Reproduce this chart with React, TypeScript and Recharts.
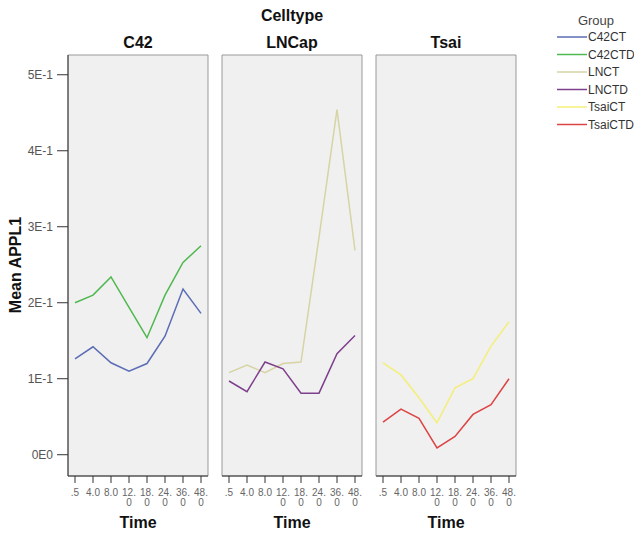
import React from "react";
import { LineChart, Line, XAxis, YAxis, ReferenceArea, Legend } from "recharts";

const times = [".5", "4.0", "8.0", "12.0", "18.0", "24.0", "36.0", "48.0"];
const c42ct = [0.126, 0.142, 0.121, 0.11, 0.12, 0.156, 0.218, 0.186];
const c42ctd = [0.2, 0.21, 0.234, 0.194, 0.154, 0.21, 0.253, 0.275];
const lnct = [0.108, 0.118, 0.108, 0.12, 0.122, 0.286, 0.454, 0.269];
const lnctd = [0.097, 0.083, 0.122, 0.113, 0.081, 0.081, 0.133, 0.157];
const tsaict = [0.121, 0.105, 0.075, 0.042, 0.088, 0.1, 0.143, 0.175];
const tsaictd = [0.043, 0.06, 0.048, 0.009, 0.024, 0.053, 0.066, 0.1];

const yTicks = [0, 0.1, 0.2, 0.3, 0.4, 0.5];
const groups = ["C42CT", "C42CTD", "LNCT", "LNCTD", "TsaiCT", "TsaiCTD"];
const groupColors = ["#5b6db5", "#4fb84f", "#d7d4a4", "#7e3f8c", "#f3ef7a", "#dd4444"];
const celltypes = ["C42", "LNCap", "Tsai"];

const data = times.map((t, i) => ({
  time: t,
  C42CT: c42ct[i],
  C42CTD: c42ctd[i],
  LNCT: lnct[i],
  LNCTD: lnctd[i],
  TsaiCT: tsaict[i],
  TsaiCTD: tsaictd[i],
}));

const yMin = -0.028;
const yMax = 0.526;
const boxMax = times.length - 1;
const font = "'Liberation Sans', Arial, sans-serif";

// plot area left/right per panel
const panels = [
  { left: 68, right: 208, series: [0, 1] },
  { left: 222, right: 362, series: [2, 3] },
  { left: 376, right: 516, series: [4, 5] },
];

const fmtY = (v: number) => (v === 0 ? "0E0" : `${Math.round(v * 10)}E-1`);

const TimeTick = (props: any) => {
  const { x, y, payload } = props;
  const s = String(payload.value);
  const a = s.length > 3 ? s.slice(0, 3) : s;
  const b = s.length > 3 ? s.slice(3) : "";
  return (
    <g>
      <text x={x} y={y} dy={11} textAnchor="middle" fontSize={10} fill="#666" fontFamily={font}>
        {a}
      </text>
      {b && (
        <text x={x} y={y} dy={21} textAnchor="middle" fontSize={10} fill="#666" fontFamily={font}>
          {b}
        </text>
      )}
    </g>
  );
};

const renderLegend = () => (
  <svg width={89} height={125}>
    <text x={51} y={17} textAnchor="middle" fontSize={13} fill="#444" fontFamily={font}>
      Group
    </text>
    {groups.map((g, i) => {
      const cy = 29 + i * 17.5;
      return (
        <g key={g}>
          <line x1={12} x2={42} y1={cy} y2={cy} stroke={groupColors[i]} strokeWidth={1.5} />
          <text x={43} y={cy + 4} fontSize={12} fill="#333" fontFamily={font}>
            {g}
          </text>
        </g>
      );
    })}
  </svg>
);

const Title = ({ text, x, y }: { text: string; x: number; y: number }) => (
  <div
    style={{
      position: "absolute",
      left: x,
      top: y,
      transform: "translate(-50%, -50%)",
      fontWeight: "bold",
      fontSize: 16,
      whiteSpace: "nowrap",
      color: "#111",
    }}
  >
    {text}
  </div>
);

export default function App() {
  return (
    <div
      style={{
        position: "absolute",
        left: 0,
        top: 0,
        width: 634,
        height: 533,
        background: "#fff",
        fontFamily: font,
      }}
    >
      {panels.map((p, pi) => (
        <div key={pi} style={{ position: "absolute", left: 0, top: 0 }}>
          <LineChart
            width={634}
            height={533}
            data={data}
            margin={{ top: 55, bottom: 7, left: pi === 0 ? 8 : p.left, right: 634 - p.right }}
          >
            <XAxis xAxisId="box" type="number" domain={[0, boxMax]} allowDataOverflow hide />
            <ReferenceArea
              xAxisId="box"
              x1={0}
              x2={boxMax}
              y1={yMin}
              y2={yMax}
              fill="#f0f0f0"
              fillOpacity={1}
              stroke="#999"
              strokeWidth={1}
            />
            <XAxis
              dataKey="time"
              type="category"
              scale="point"
              padding={{ left: 7, right: 7 }}
              height={50}
              interval={0}
              tickSize={7}
              tickMargin={2}
              stroke="#333"
              tick={<TimeTick />}
            />
            <YAxis
              type="number"
              domain={[yMin, yMax]}
              allowDataOverflow
              ticks={yTicks}
              tickFormatter={fmtY}
              width={pi === 0 ? 60 : 0}
              tick={pi === 0 ? { fontSize: 12, fill: "#555" } : false}
              tickLine={pi === 0}
              tickSize={11}
              tickMargin={4}
              stroke="#333"
            />
            {p.series.map((si) => (
              <Line
                key={groups[si]}
                type="linear"
                dataKey={groups[si]}
                stroke={groupColors[si]}
                strokeWidth={1.5}
                dot={false}
                activeDot={false}
                isAnimationActive={false}
              />
            ))}
            {pi === 2 && (
              <Legend
                layout="vertical"
                align="center"
                verticalAlign="middle"
                wrapperStyle={{ left: 545, top: 8, width: 89 }}
                content={renderLegend}
              />
            )}
          </LineChart>
        </div>
      ))}
      <Title text="Celltype" x={292} y={16} />
      {celltypes.map((c, i) => (
        <Title key={c} text={c} x={(panels[i].left + panels[i].right) / 2} y={43} />
      ))}
      {panels.map((p, i) => (
        <Title key={i} text="Time" x={(p.left + p.right) / 2} y={523} />
      ))}
      <div
        style={{
          position: "absolute",
          left: 16,
          top: 265,
          transform: "translate(-50%, -50%) rotate(-90deg)",
          fontWeight: "bold",
          fontSize: 16,
          whiteSpace: "nowrap",
          color: "#111",
        }}
      >
        Mean APPL1
      </div>
    </div>
  );
}
